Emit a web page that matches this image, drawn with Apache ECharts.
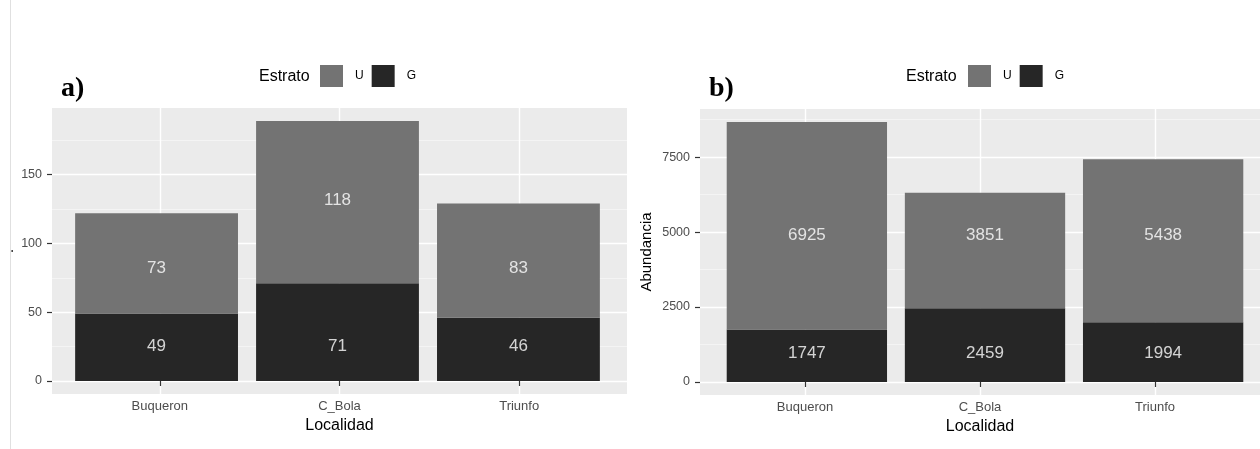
<!DOCTYPE html>
<html>
<head>
<meta charset="utf-8">
<script src="https://cdn.jsdelivr.net/npm/echarts@6/dist/echarts.min.js"></script>
<style>
  html, body { margin: 0; padding: 0; background: #fff; }
  #chart { width: 1260px; height: 449px; }
</style>
</head>
<body>
<div id="chart"></div>
<script>
// datos
const localidades = ['Buqueron', 'C_Bola', 'Triunfo']
const riquezaG = [49, 71, 46]
const riquezaU = [73, 118, 83]
const abundanciaG = [1747, 2459, 1994]
const abundanciaU = [6925, 3851, 5438]
// altura (en unidades del eje) donde van las etiquetas
const etiquetaRiqG = [25, 25, 25]
const etiquetaRiqU = [82, 131, 82]
const etiquetaAbuG = [970, 970, 970]
const etiquetaAbuU = [4900, 4900, 4900]
const ticksRiqueza = [0, 50, 100, 150]
const minorRiqueza = [25, 75, 125, 175]
const ticksAbundancia = [0, 2500, 5000, 7500]
const minorAbundancia = [1250, 3750, 6250, 8750]

const FONT = 'Liberation Sans'
const COL_U = '#737373'
const COL_G = '#262626'

const xPos = localidades.map((c, i) => i + 1)

// ggplot expande 5% arriba y abajo
function rango(g, u) {
  const top = Math.max(...g.map((v, i) => v + u[i]))
  return { min: -top * 0.05, max: top * 1.05 }
}
const rA = rango(riquezaG, riquezaU)
const rB = rango(abundanciaG, abundanciaU)

// paneles (fondo gris) y, encima, rejilla de barras con el eje discreto
const panelA = { left: 48, top: 108, width: 579, height: 286 }
const panelB = { left: 700, top: 109, width: 570, height: 286 }
function rejillaBarras(p) {
  const u = p.width / 3.2 // ggplot: 0.6 de margen a cada lado
  return { left: p.left + 0.1 * u, top: p.top, width: 3 * u, height: p.height, show: false }
}

const chart = echarts.init(document.getElementById('chart'), null, { renderer: 'canvas' })

function xPanel(gridIndex) {
  return {
    type: 'value',
    gridIndex: gridIndex,
    min: 0.4,
    max: 3.6,
    name: 'Localidad',
    nameLocation: 'middle',
    nameGap: 14,
    nameTextStyle: { fontFamily: FONT, fontSize: 16, color: '#000' },
    axisLine: { show: false },
    axisTick: { show: true, length: 5, customValues: xPos, lineStyle: { color: '#333', width: 1.2 } },
    axisLabel: {
      customValues: xPos,
      margin: 6,
      fontFamily: FONT, fontSize: 13, color: '#4d4d4d',
      formatter: v => localidades[Math.round(v) - 1] || ''
    },
    splitLine: { show: true, lineStyle: { color: '#fff', width: 1.4 } }
  }
}

function yPanel(gridIndex, r, ticks, minor, name, nameGap) {
  return [{
    type: 'value',
    gridIndex: gridIndex,
    min: r.min,
    max: r.max,
    name: name,
    nameLocation: 'middle',
    nameRotate: 90,
    nameGap: nameGap,
    nameTextStyle: { fontFamily: FONT, fontSize: 15, color: '#000' },
    axisLine: { show: false },
    axisTick: { show: true, length: 5, customValues: ticks, lineStyle: { color: '#333', width: 1.2 } },
    axisLabel: {
      customValues: ticks, margin: 10, fontFamily: FONT, fontSize: 12.5, color: '#4d4d4d',
      formatter: v => String(v)
    },
    splitLine: { show: true, lineStyle: { color: '#fff', width: 1.4 } }
  }, {
    // lineas menores
    type: 'value',
    gridIndex: gridIndex,
    min: r.min,
    max: r.max,
    axisLine: { show: false },
    axisTick: { show: false, customValues: minor },
    axisLabel: { show: false, customValues: minor },
    splitLine: { show: true, lineStyle: { color: '#f6f6f6', width: 0.8 } }
  }]
}

function serie(name, vals, xi, yi, color) {
  return {
    name: name,
    type: 'bar',
    stack: 'total' + xi,
    xAxisIndex: xi,
    yAxisIndex: yi,
    barWidth: '90%',
    data: vals,
    itemStyle: { color: color }
  }
}

// etiquetas blancas (geom_text)
function etiquetas(pos, vals, xi, yi) {
  return {
    type: 'scatter',
    xAxisIndex: xi,
    yAxisIndex: yi,
    symbolSize: 0,
    silent: true,
    z: 5,
    data: pos,
    label: {
      show: true,
      position: 'inside',
      color: '#fff',
      fontFamily: FONT,
      fontSize: 17,
      formatter: p => String(vals[p.dataIndex])
    }
  }
}

function leyenda(left) {
  return {
    data: ['U', 'G'],
    left: left,
    top: 65,
    padding: 0,
    icon: 'rect',
    itemWidth: 23,
    itemHeight: 22,
    itemGap: 8,
    selectedMode: false,
    textStyle: { fontFamily: FONT, fontSize: 12, color: '#000', padding: [0, 0, 0, 7] }
  }
}

const tituloStyle = { fontFamily: 'Liberation Serif', fontWeight: 'bold', fontSize: 28, color: '#000' }

chart.setOption({
  animation: false,
  grid: [
    Object.assign({ show: true, backgroundColor: '#ebebeb', borderWidth: 0 }, panelA),
    Object.assign({ show: true, backgroundColor: '#ebebeb', borderWidth: 0 }, panelB),
    rejillaBarras(panelA),
    rejillaBarras(panelB)
  ],
  xAxis: [
    xPanel(0),
    xPanel(1),
    { type: 'category', gridIndex: 2, data: localidades, show: false },
    { type: 'category', gridIndex: 3, data: localidades, show: false }
  ],
  yAxis: [
    ...yPanel(0, rA, ticksRiqueza, minorRiqueza, '.', 36),
    ...yPanel(1, rB, ticksAbundancia, minorAbundancia, 'Abundancia', 46),
    { type: 'value', gridIndex: 2, min: rA.min, max: rA.max, show: false, splitLine: { show: false } },
    { type: 'value', gridIndex: 3, min: rB.min, max: rB.max, show: false, splitLine: { show: false } }
  ],
  legend: [leyenda(320), leyenda(968)],
  title: [
    { text: 'a)', left: 61, top: 75, padding: 0, textStyle: tituloStyle },
    { text: 'b)', left: 709, top: 75, padding: 0, textStyle: tituloStyle }
  ],
  graphic: [
    { type: 'text', left: 259, top: 69, style: { text: 'Estrato', fontFamily: FONT, fontSize: 16, fill: '#000' } },
    { type: 'text', left: 906, top: 69, style: { text: 'Estrato', fontFamily: FONT, fontSize: 16, fill: '#000' } },
    { type: 'line', shape: { x1: 10.5, y1: 0, x2: 10.5, y2: 449 }, style: { stroke: '#e0e0e0', lineWidth: 1 } }
  ],
  series: [
    serie('G', riquezaG, 2, 4, COL_G),
    serie('U', riquezaU, 2, 4, COL_U),
    serie('G', abundanciaG, 3, 5, COL_G),
    serie('U', abundanciaU, 3, 5, COL_U),
    etiquetas(etiquetaRiqG, riquezaG, 2, 4),
    etiquetas(etiquetaRiqU, riquezaU, 2, 4),
    etiquetas(etiquetaAbuG, abundanciaG, 3, 5),
    etiquetas(etiquetaAbuU, abundanciaU, 3, 5)
  ]
})
</script>
</body>
</html>
